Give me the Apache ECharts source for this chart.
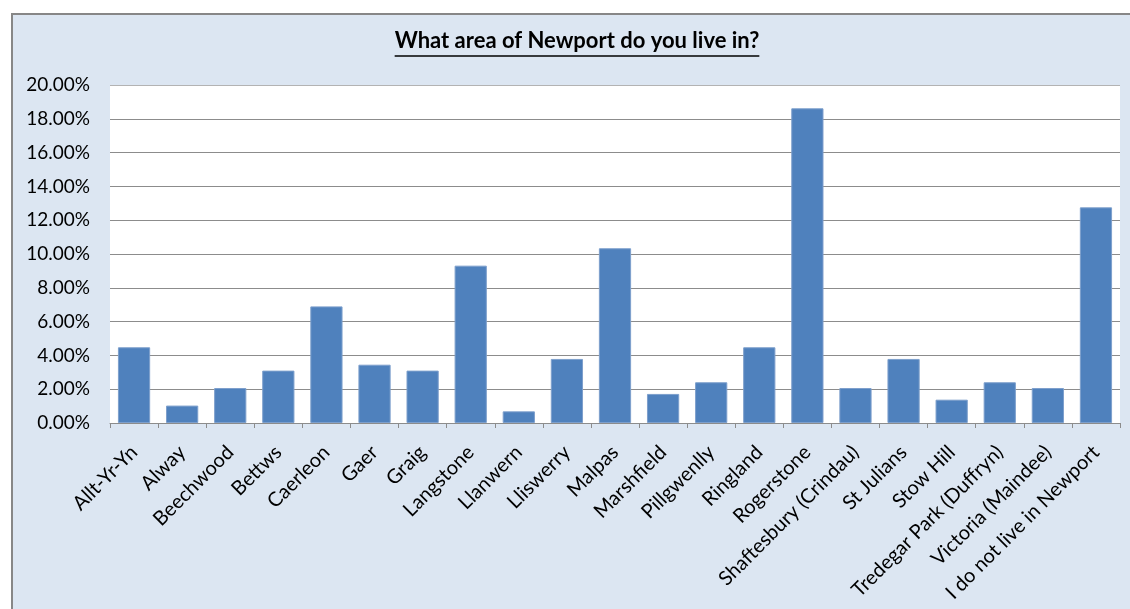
<!DOCTYPE html>
<html>
<head>
<meta charset="utf-8">
<title>What area of Newport do you live in?</title>
<script src="https://cdn.jsdelivr.net/npm/echarts@6/dist/echarts.min.js"></script>
<style>
  html, body { margin: 0; padding: 0; background: #ffffff; }
  #chart { width: 1130px; height: 609px; }
</style>
</head>
<body>
<div id="chart"></div>
<script>
// Survey answers: share of respondents by area of Newport (percent)
const areas = [
  'Allt-Yr-Yn', 'Alway', 'Beechwood', 'Bettws', 'Caerleon', 'Gaer', 'Graig',
  'Langstone', 'Llanwern', 'Lliswerry', 'Malpas', 'Marshfield', 'Pillgwenlly',
  'Ringland', 'Rogerstone', 'Shaftesbury (Crindau)', 'St Julians', 'Stow Hill',
  'Tredegar Park (Duffryn)', 'Victoria (Maindee)', 'I do not live in Newport'
];
const shares = [
  4.48, 1.03, 2.07, 3.10, 6.90, 3.45, 3.10,
  9.31, 0.69, 3.79, 10.34, 1.72, 2.41,
  4.48, 18.62, 2.07, 3.79, 1.38,
  2.41, 2.07, 12.76
];
const yMin = 0;
const yMax = 20;
const yStep = 2;

const FONT = 'Lato, "Open Sans", sans-serif';
const TITLE = 'What area of Newport do you live in?';
const TITLE_SIZE = 22;
const TITLE_CENTER_X = 577;
const TITLE_TOP = 30;
const UNDERLINE_Y = 56;

// Measure the title so it can be centred and underlined
const ctx = document.createElement('canvas').getContext('2d');
ctx.font = 'bold ' + TITLE_SIZE + 'px ' + FONT;
const titleWidth = ctx.measureText(TITLE).width;
const titleLeft = TITLE_CENTER_X - titleWidth / 2;

const chart = echarts.init(document.getElementById('chart'), null, { renderer: 'canvas' });

chart.setOption({
  backgroundColor: '#ffffff',
  animation: false,
  graphic: [
    {
      type: 'rect',
      z: -10,
      shape: { x: 12, y: 14, width: 1140, height: 620 },
      style: { fill: '#dce6f2', stroke: '#878787', lineWidth: 2 }
    },
    {
      type: 'line',
      z: 10,
      shape: { x1: titleLeft, y1: UNDERLINE_Y, x2: titleLeft + titleWidth, y2: UNDERLINE_Y },
      style: { stroke: '#000000', lineWidth: 1.5 }
    }
  ],
  title: {
    text: TITLE,
    left: titleLeft,
    top: TITLE_TOP,
    padding: 0,
    textStyle: {
      fontFamily: FONT,
      fontSize: TITLE_SIZE,
      fontWeight: 'bold',
      color: '#000000'
    }
  },
  grid: {
    left: 110,
    right: 10,
    top: 85,
    bottom: 186,
    show: true,
    backgroundColor: '#ffffff',
    borderWidth: 0
  },
  xAxis: {
    type: 'category',
    data: areas,
    boundaryGap: true,
    axisLine: { show: true, lineStyle: { color: '#8c8c8c', width: 1 } },
    axisTick: { show: true, length: 5, lineStyle: { color: '#8c8c8c' } },
    axisLabel: {
      interval: 0,
      rotate: 45,
      margin: 26,
      fontFamily: FONT,
      fontSize: 20,
      color: '#000000'
    }
  },
  yAxis: {
    type: 'value',
    min: yMin,
    max: yMax,
    interval: yStep,
    axisLine: { show: false },
    axisTick: { show: false },
    axisLabel: {
      margin: 20,
      fontFamily: FONT,
      fontSize: 19,
      color: '#000000',
      formatter: v => v.toFixed(2) + '%'
    },
    splitLine: {
      show: true,
      lineStyle: {
        color: ['#8c8c8c', '#8c8c8c', '#8c8c8c', '#8c8c8c', '#8c8c8c', '#8c8c8c',
                '#8c8c8c', '#8c8c8c', '#8c8c8c', '#8c8c8c', '#b3b3b3'],
        width: 1
      }
    }
  },
  series: [
    {
      type: 'bar',
      data: shares,
      barCategoryGap: '33%',
      itemStyle: { color: '#4f81bd', borderColor: '#7d9fcc', borderWidth: 1 }
    }
  ]
});
</script>
</body>
</html>
